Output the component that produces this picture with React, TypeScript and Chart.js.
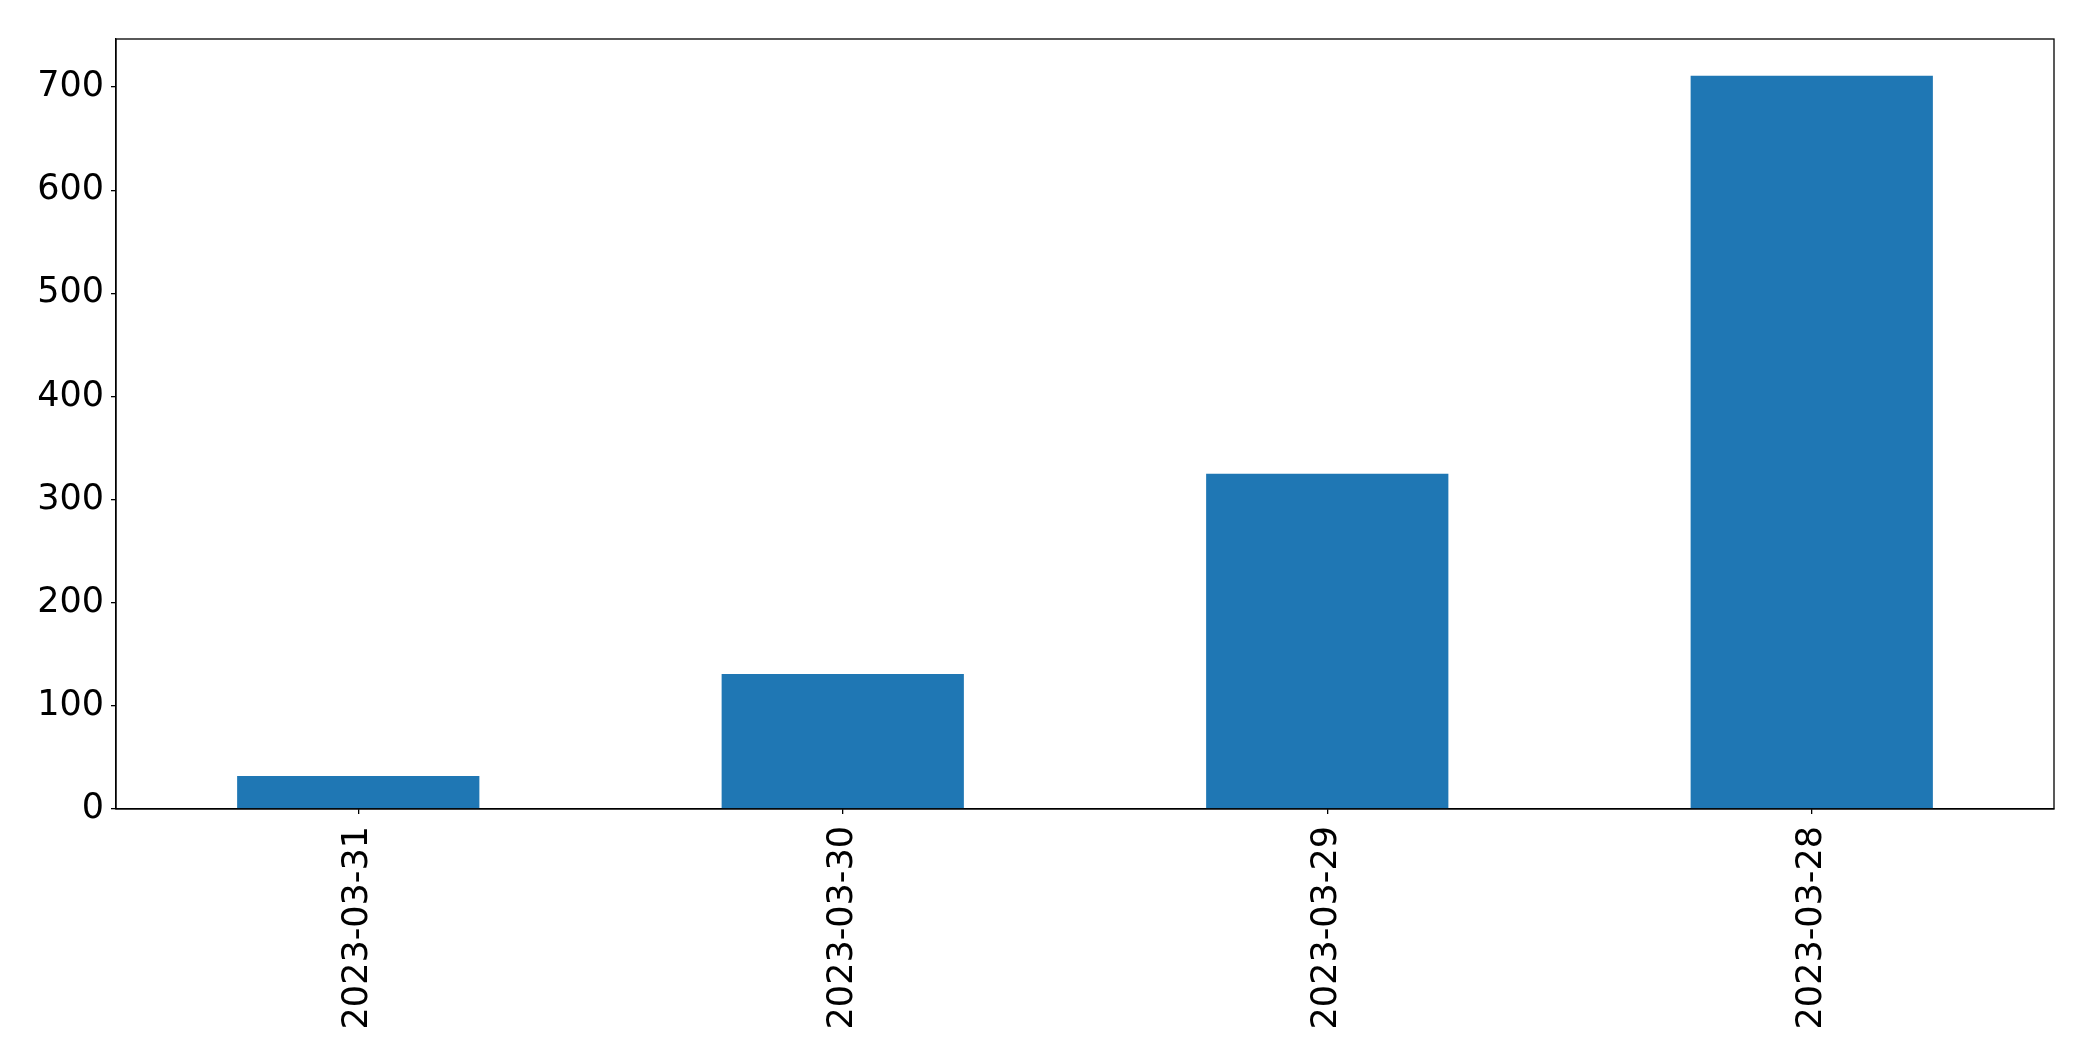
import React, { useEffect, useRef } from "react";
import { Chart, registerables } from "chart.js";

Chart.register(...registerables);

const categories = ["2023-03-31", "2023-03-30", "2023-03-29", "2023-03-28"];
const values = [32, 131, 325, 711];
const yTicks = [0, 100, 200, 300, 400, 500, 600, 700];
const yMax = 746.55;

const FONT = "'DejaVu Sans', sans-serif";

const framePlugin = {
  id: "frame",
  afterDraw(chart: any) {
    const { ctx, chartArea } = chart;
    ctx.save();
    ctx.strokeStyle = "#000";
    ctx.lineWidth = 1.3;
    ctx.strokeRect(chartArea.left, chartArea.top, chartArea.right - chartArea.left, chartArea.bottom - chartArea.top);
    ctx.restore();
  },
};

export default function App() {
  const ref = useRef<HTMLCanvasElement>(null);
  useEffect(() => {
    if (!ref.current) return;
    const chart = new Chart(ref.current, {
      type: "bar",
      data: {
        labels: categories,
        datasets: [
          {
            data: values,
            backgroundColor: "#1f77b4",
            borderWidth: 0,
            barPercentage: 0.5,
            categoryPercentage: 1.0,
          },
        ],
      },
      options: {
        responsive: false,
        animation: false,
        layout: { padding: { top: 39, right: 39, left: 0, bottom: 0 } },
        plugins: { legend: { display: false }, tooltip: { enabled: false } },
        scales: {
          x: {
            offset: true,
            grid: { offset: false, drawOnChartArea: false, drawTicks: true, tickLength: 5, color: "#000", lineWidth: 1.3 },
            border: { display: true, color: "#000", width: 1.3 },
            ticks: {
              minRotation: 90,
              maxRotation: 90,
              padding: 12,
              color: "#000",
              font: { family: FONT, size: 35 },
            },
            afterFit: (scale: any) => {
              scale.height = 252;
            },
          },
          y: {
            min: 0,
            max: yMax,
            grid: { drawOnChartArea: false, drawTicks: true, tickLength: 5, color: "#000", lineWidth: 1.3 },
            border: { display: true, color: "#000", width: 1.3 },
            afterBuildTicks: (scale: any) => {
              scale.ticks = yTicks.map((v) => ({ value: v }));
            },
            ticks: {
              padding: 7,
              color: "#000",
              font: { family: FONT, size: 35 },
            },
            afterFit: (scale: any) => {
              scale.width = 116;
            },
          },
        },
      },
      plugins: [framePlugin],
    });
    return () => chart.destroy();
  }, []);
  return (
    <div style={{ position: "fixed", left: 0, top: 0, width: 2093, height: 1061, background: "#fff" }}>
      <canvas ref={ref} width={2093} height={1061} style={{ width: 2093, height: 1061, display: "block" }} />
    </div>
  );
}
